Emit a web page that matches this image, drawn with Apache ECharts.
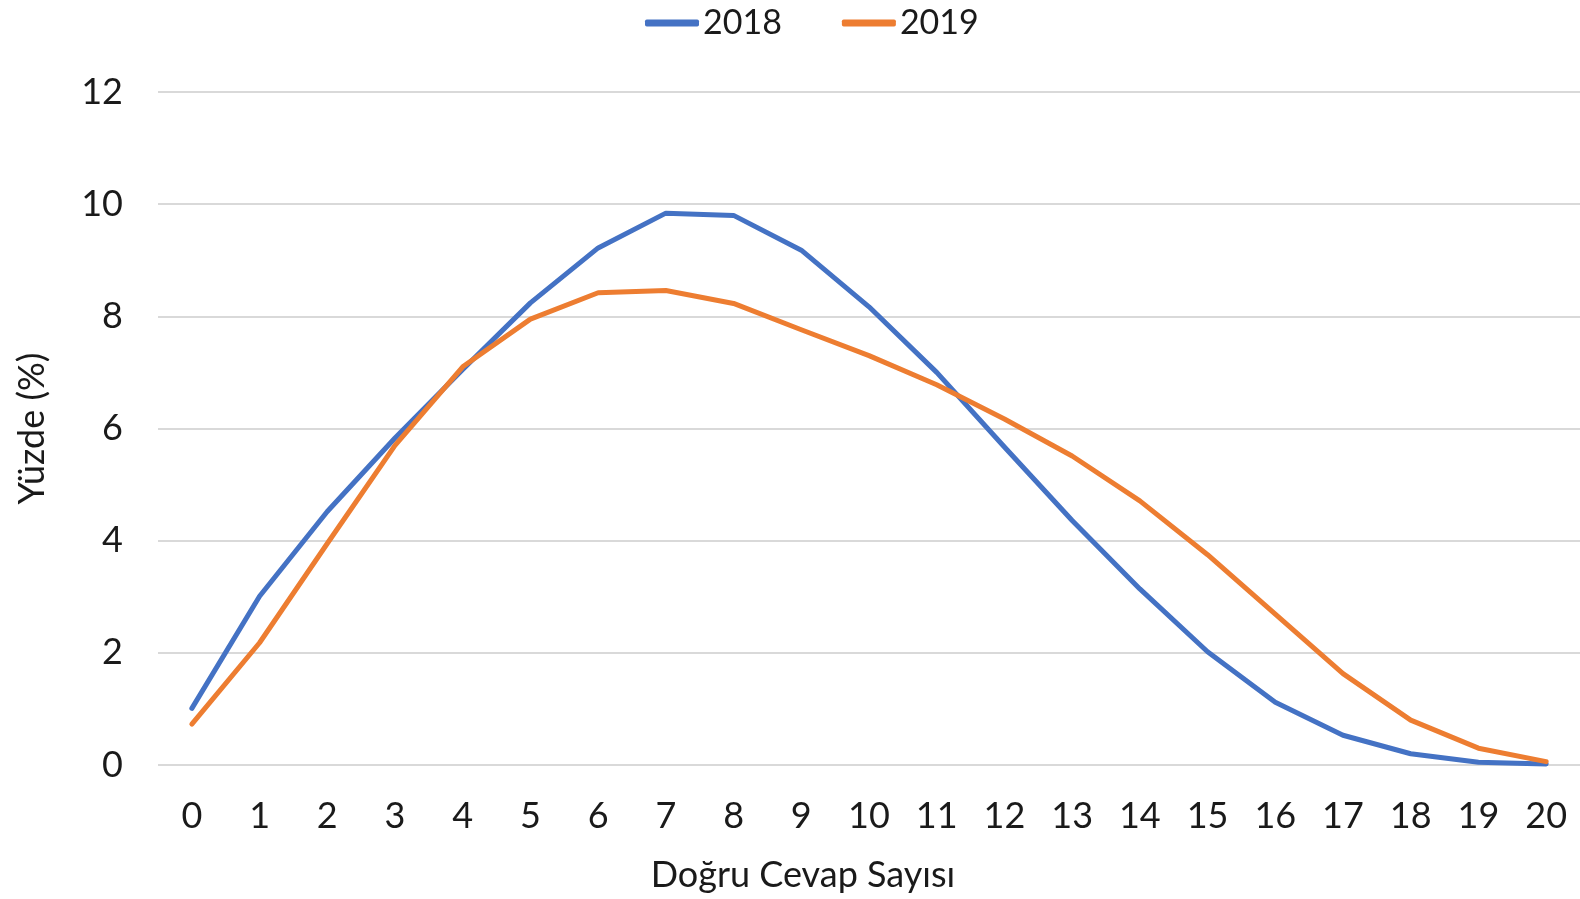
<!DOCTYPE html>
<html><head><meta charset="utf-8">
<script src="https://cdn.jsdelivr.net/npm/echarts@6/dist/echarts.min.js"></script>
<style>html,body{margin:0;padding:0;background:#fff}#c{width:1580px;height:899px}</style>
</head><body><div id="c"></div>
<script>
var categories = ['0','1','2','3','4','5','6','7','8','9','10','11','12','13','14','15','16','17','18','19','20'];
var series2018 = [1.01,3.01,4.52,5.83,7.05,8.24,9.22,9.84,9.80,9.18,8.17,7.00,5.67,4.36,3.14,2.02,1.12,0.53,0.20,0.05,0.02];
var series2019 = [0.73,2.18,3.95,5.70,7.10,7.95,8.42,8.46,8.23,7.76,7.30,6.78,6.17,5.51,4.71,3.75,2.69,1.63,0.80,0.30,0.06];
var yTicks = {min:0, max:12, interval:2};
var FONT = 'Lato';
var chart = echarts.init(document.getElementById('c'));
chart.setOption({
  animation:false,
  textStyle:{fontFamily:FONT},
  legend:{top:1, left:640, itemWidth:54, itemHeight:7, itemGap:60,
    icon:'roundRect',
    textStyle:{fontSize:34, color:'#1a1a1a', fontFamily:FONT, padding:[0,0,0,-1]},
    data:['2018','2019']},
  grid:{left:158, right:-6, top:92, bottom:134, containLabel:false},
  xAxis:{type:'category', data:categories, boundaryGap:true,
    name:'Doğru Cevap Sayısı', nameLocation:'middle', nameGap:92,
    nameTextStyle:{fontSize:36, color:'#1a1a1a', fontFamily:FONT, padding:[0,132,0,0]},
    axisLine:{show:false}, axisTick:{show:false},
    axisLabel:{fontSize:36, color:'#1a1a1a', margin:33, fontFamily:FONT, interval:0}},
  yAxis:{type:'value', min:yTicks.min, max:yTicks.max, interval:yTicks.interval,
    name:'Yüzde (%)', nameLocation:'middle', nameGap:108,
    nameTextStyle:{fontSize:36, color:'#1a1a1a', fontFamily:FONT},
    axisLine:{show:false}, axisTick:{show:false},
    axisLabel:{fontSize:36, color:'#1a1a1a', margin:35, fontFamily:FONT},
    splitLine:{lineStyle:{color:'#d9d9d9', width:2}}},
  series:[
    {name:'2018', type:'line', data:series2018, symbol:'none', smooth:false,
      lineStyle:{color:'#4472C4', width:5, cap:'round', join:'round'}, itemStyle:{color:'#4472C4'}},
    {name:'2019', type:'line', data:series2019, symbol:'none', smooth:false,
      lineStyle:{color:'#ED7D31', width:5, cap:'round', join:'round'}, itemStyle:{color:'#ED7D31'}}
  ]
});
</script></body></html>
